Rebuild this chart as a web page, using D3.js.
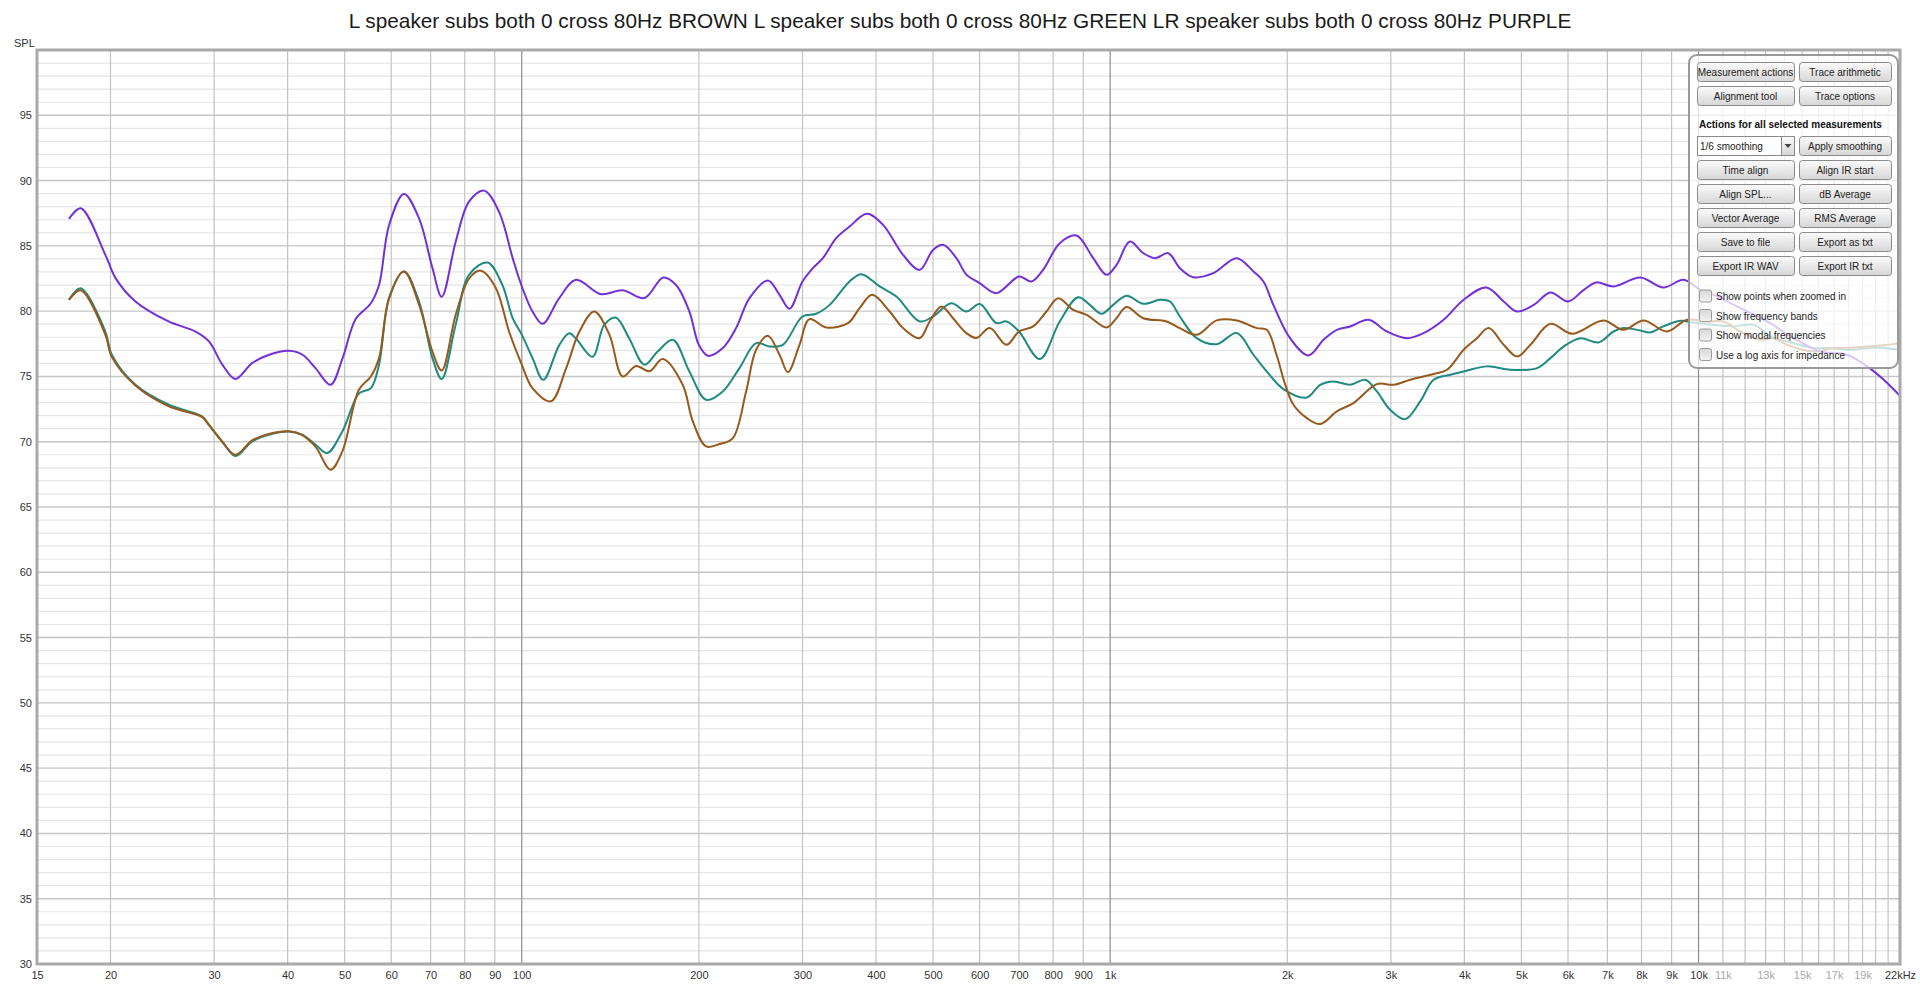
<!DOCTYPE html>
<html>
<head>
<meta charset="utf-8">
<script src="https://cdn.jsdelivr.net/npm/d3@7"></script>
<style>
  html, body { margin: 0; padding: 0; background: #fff; }
  svg { display: block; font-family: "Liberation Sans", Arial, sans-serif; }
</style>
</head>
<body>
<svg id="chart" width="1920" height="985"></svg>
<script>
// ---------------- DATA ----------------
const titleText = "L speaker subs both 0 cross 80Hz BROWN L speaker subs both 0 cross 80Hz GREEN LR speaker subs both 0 cross 80Hz PURPLE";

const purpleFreq = [17, 17.8, 19.6, 20.4, 22.05, 25.1, 27.9, 29.4, 31, 32.6, 34.8, 37.2, 40.2, 42.4, 44.6, 47.3, 49.6, 52.2, 55.4, 57.2, 59.5, 63.06, 66.9, 70.5, 73.1, 77.2, 81.4, 86.3, 91.5, 96.5, 100, 104.3, 108.5, 115.8, 123.6, 136.3, 148.4, 161.6, 174, 182.9, 192.7, 200, 207.2, 219.6, 231.3, 243.8, 262, 274.2, 285.1, 300, 312.4, 324.9, 342.3, 360.7, 386.1, 411.1, 444.6, 474.5, 500, 520, 547.9, 569.8, 600.3, 640.9, 700, 735, 769.2, 821, 876.5, 935.9, 986, 1025.4, 1080.3, 1138.6, 1191.5, 1255.8, 1313.6, 1384.9, 1497.7, 1641, 1752, 1822, 1894, 2022, 2173, 2305, 2428, 2557, 2749, 2953, 3194, 3410, 3688, 3989, 4359, 4665, 4916, 5248, 5601, 6000, 6383, 6700, 7170, 7958, 8717, 9430, 10070, 10605, 11776, 13074, 14510, 16113, 17887, 19345, 20645, 22040];
const purpleSPL = [87.07, 87.88, 84.31, 82.53, 80.74, 79.21, 78.44, 77.68, 75.89, 74.8, 76.02, 76.66, 76.96, 76.66, 75.64, 74.36, 76.4, 79.4, 80.6, 82.0, 86.6, 88.98, 87.1, 83.3, 81.1, 85.3, 88.4, 89.23, 87.6, 84.06, 81.9, 79.97, 79.03, 81.0, 82.4, 81.3, 81.6, 81.0, 82.58, 82.0, 79.97, 77.4, 76.58, 77.17, 78.7, 81.0, 82.35, 81.25, 80.18, 82.27, 83.29, 84.06, 85.59, 86.48, 87.45, 86.61, 84.31, 83.16, 84.69, 85.08, 84.06, 82.8, 82.14, 81.38, 82.65, 82.27, 83.16, 85.2, 85.79, 84.06, 82.78, 83.55, 85.33, 84.44, 84.06, 84.44, 83.29, 82.6, 82.91, 84.06, 83.04, 82.27, 80.48, 77.93, 76.61, 77.81, 78.57, 78.83, 79.34, 78.44, 77.93, 78.32, 79.34, 80.87, 81.81, 80.74, 79.97, 80.48, 81.43, 80.74, 81.63, 82.2, 81.89, 82.58, 81.81, 82.4, 81.63, 81.25, 80.23, 79.21, 77.93, 76.91, 76.66, 75.77, 74.74, 73.47];

const greenFreq = [17, 17.8, 19.6, 20.1, 22.05, 25.13, 28.6, 29.38, 30.96, 32.62, 34.82, 37.17, 40.19, 42.36, 44.63, 46.7, 49.55, 52.9, 55.4, 57.2, 59.5, 63.06, 66.9, 70.5, 73.1, 77.2, 81.4, 87.5, 92.7, 96.5, 100, 104.3, 108.8, 115.8, 120.4, 123.6, 131.9, 138.1, 144.6, 152.3, 161.6, 170.2, 180.6, 192.7, 205.8, 219.6, 234.4, 250.2, 263.6, 277.8, 300, 316.5, 333.6, 360.7, 377.6, 405.7, 433.2, 474.5, 500, 537.3, 569.8, 600.3, 640.9, 666.5, 700, 759.3, 821, 882.3, 923.7, 967, 1012, 1066.4, 1138.6, 1215, 1263.7, 1313.6, 1403, 1517, 1641, 1752, 1845.7, 1970, 2159, 2275, 2397, 2557, 2713, 2840, 2991, 3173, 3365, 3546, 3785, 3989, 4370, 4788, 5316, 5601, 5901, 6299, 6759, 7170, 7457, 7958, 8276, 8717, 9309, 9806, 10605, 11472, 12409, 13418, 14140, 15697, 16542, 18351, 19855, 22040];
const greenSPL = [80.87, 81.76, 78.44, 76.66, 74.36, 72.83, 71.94, 71.3, 70.03, 68.9, 70.03, 70.54, 70.79, 70.54, 69.77, 69.13, 70.79, 73.7, 74.1, 75.9, 81.0, 83.04, 80.74, 76.4, 74.8, 78.95, 82.8, 83.72, 82.0, 79.46, 78.2, 76.4, 74.74, 77.4, 78.3, 77.9, 76.5, 78.95, 79.5, 77.9, 75.9, 76.9, 77.81, 75.38, 73.21, 73.85, 75.64, 77.55, 77.3, 77.42, 79.59, 79.8, 80.48, 82.27, 82.83, 81.89, 81.12, 79.21, 79.59, 80.61, 79.97, 80.54, 79.08, 79.21, 78.44, 76.33, 79.21, 81.07, 80.48, 79.8, 80.48, 81.17, 80.56, 80.87, 80.74, 79.59, 77.93, 77.47, 78.32, 76.66, 75.38, 74.03, 73.39, 74.36, 74.62, 74.36, 74.74, 73.85, 72.45, 71.73, 73.09, 74.74, 75.13, 75.38, 75.77, 75.51, 75.64, 76.4, 77.3, 77.93, 77.6, 78.44, 78.7, 78.52, 78.37, 78.83, 79.26, 79.13, 78.95, 78.83, 78.95, 77.93, 77.68, 77.17, 77.17, 77.04, 77.22, 77.04];

const brownFreq = [17, 17.8, 19.6, 20.1, 22.05, 25.13, 28.6, 29.38, 30.96, 32.62, 34.82, 37.17, 40.19, 42.36, 44.63, 47.33, 49.55, 52.9, 55.4, 57.2, 59.5, 63.06, 66.9, 70.5, 73.1, 77.2, 81.4, 85.2, 90.3, 95.2, 100, 104.3, 112.1, 118.9, 125.2, 132.8, 140.9, 148.4, 156.4, 164.8, 173.6, 187.7, 195.3, 205.8, 216.8, 228.4, 240.6, 250.2, 262, 274.2, 283.3, 296.5, 308.3, 329.2, 358.4, 375.1, 394.1, 421.9, 444.6, 474.5, 493.5, 516.6, 540.7, 569.8, 592.6, 624.3, 666.5, 700, 739.8, 779.4, 815.8, 865.5, 912, 986, 1025, 1066, 1138.6, 1247.5, 1313.6, 1403, 1517, 1641, 1774.8, 1845.7, 1919.4, 1980, 2049, 2159, 2275, 2428, 2591, 2840, 3032, 3236, 3546, 3737, 3989, 4202, 4399, 4665, 4916, 5179, 5601, 6095, 6890, 7457, 8064, 8835, 9557, 10335, 11030, 11776, 12735, 13418, 14140, 15697, 16972, 18351, 20380, 22040];
const brownSPL = [80.87, 81.6, 78.2, 76.5, 74.3, 72.7, 71.9, 71.3, 70.0, 69.0, 70.1, 70.6, 70.8, 70.5, 69.6, 67.86, 69.26, 74.0, 75.0, 76.4, 81.0, 83.04, 80.5, 76.9, 75.46, 79.7, 82.5, 83.1, 81.8, 78.4, 75.9, 74.1, 73.1, 75.6, 78.4, 79.97, 78.2, 75.0, 75.8, 75.4, 76.33, 74.36, 71.56, 69.64, 69.82, 70.28, 73.85, 77.04, 78.11, 76.66, 75.33, 77.42, 79.39, 78.75, 79.08, 80.23, 81.25, 79.97, 78.7, 77.93, 79.21, 80.36, 79.46, 78.32, 77.95, 78.7, 77.42, 78.44, 78.83, 79.97, 80.99, 80.1, 79.72, 78.75, 79.46, 80.31, 79.46, 79.21, 78.7, 78.19, 79.29, 79.29, 78.7, 78.57, 76.6, 74.5, 72.83, 71.81, 71.35, 72.32, 72.96, 74.41, 74.36, 74.74, 75.18, 75.51, 77.04, 77.93, 78.7, 77.42, 76.53, 77.42, 79.03, 78.27, 79.29, 78.57, 79.29, 78.44, 79.34, 79.21, 79.21, 78.44, 77.81, 77.93, 77.42, 76.91, 77.17, 77.22, 77.37, 77.55];

const yTicks = [30, 35, 40, 45, 50, 55, 60, 65, 70, 75, 80, 85, 90, 95];
const xTickValues = [15, 20, 30, 40, 50, 60, 70, 80, 90, 100, 200, 300, 400, 500, 600, 700, 800, 900, 1000, 2000, 3000, 4000, 5000, 6000, 7000, 8000, 9000, 10000, 11000, 13000, 15000, 17000, 19000, 22000];
const xTickLabels = ["15", "20", "30", "40", "50", "60", "70", "80", "90", "100", "200", "300", "400", "500", "600", "700", "800", "900", "1k", "2k", "3k", "4k", "5k", "6k", "7k", "8k", "9k", "10k", "11k", "13k", "15k", "17k", "19k", "22kHz"];
const fadedTickLabels = ["11k", "13k", "15k", "17k", "19k"];
const gridFreqs = [20, 30, 40, 50, 60, 70, 80, 90, 200, 300, 400, 500, 600, 700, 800, 900, 2000, 3000, 4000, 5000, 6000, 7000, 8000, 9000, 11000, 12000, 13000, 14000, 15000, 16000, 17000, 18000, 19000, 20000, 21000];
const decadeFreqs = [100, 1000, 10000];

const panelButtons = [
  ["Measurement actions", "Trace arithmetic"],
  ["Alignment tool", "Trace options"],
  null,
  ["Time align", "Align IR start"],
  ["Align SPL...", "dB Average"],
  ["Vector Average", "RMS Average"],
  ["Save to file", "Export as txt"],
  ["Export IR WAV", "Export IR txt"]
];
const panelHeading = "Actions for all selected measurements";
const smoothingLabel = "1/6 smoothing";
const smoothingButton = "Apply smoothing";
const checkboxLabels = ["Show points when zoomed in", "Show frequency bands", "Show modal frequencies", "Use a log axis for impedance"];

const series = [
  { name: "GREEN", freq: greenFreq, spl: greenSPL, color: "#1f8a80" },
  { name: "BROWN", freq: brownFreq, spl: brownSPL, color: "#98591c" },
  { name: "PURPLE", freq: purpleFreq, spl: purpleSPL, color: "#7330d8" }
];

// ---------------- LAYOUT ----------------
const svg = d3.select("#chart");
const L = 37, T = 50, R = 1900, B = 964;
const x = d3.scaleLog().domain([15, 22000]).range([L, R]);
const y = d3.scaleLinear().domain([30, 100]).range([B, T]);

const defs = svg.append("defs");
defs.append("clipPath").attr("id", "plotClip")
  .append("rect").attr("x", L).attr("y", T).attr("width", R - L).attr("height", B - T);
const bg = defs.append("linearGradient").attr("id", "btnGrad").attr("x1", 0).attr("y1", 0).attr("x2", 0).attr("y2", 1);
bg.append("stop").attr("offset", "0%").attr("stop-color", "#fbfbfb");
bg.append("stop").attr("offset", "100%").attr("stop-color", "#d6d6d6");
const cg = defs.append("linearGradient").attr("id", "chkGrad").attr("x1", 0).attr("y1", 0).attr("x2", 0).attr("y2", 1);
cg.append("stop").attr("offset", "0%").attr("stop-color", "#d8d8d8");
cg.append("stop").attr("offset", "100%").attr("stop-color", "#f2f2f2");

// title
svg.append("text").attr("x", 960).attr("y", 28).attr("text-anchor", "middle")
  .attr("font-size", 20.8).attr("fill", "#1a1a1a").text(titleText);

// SPL label
svg.append("text").attr("x", 14).attr("y", 47).attr("font-size", 11).attr("fill", "#333").text("SPL");

// grid
const grid = svg.append("g");
const minorDb = d3.range(31, 100).filter(v => v % 5 !== 0);
grid.selectAll("line.hmin").data(minorDb).join("line")
  .attr("x1", L).attr("x2", R).attr("y1", d => y(d)).attr("y2", d => y(d))
  .attr("stroke", "#e6e6e6").attr("stroke-width", 1.2);
grid.selectAll("line.hmaj").data(yTicks.filter(v => v > 30)).join("line")
  .attr("x1", L).attr("x2", R).attr("y1", d => y(d)).attr("y2", d => y(d))
  .attr("stroke", "#c6c6c6").attr("stroke-width", 1.4);
grid.selectAll("line.vmin").data(gridFreqs).join("line")
  .attr("x1", d => x(d)).attr("x2", d => x(d)).attr("y1", T).attr("y2", B)
  .attr("stroke", "#c4c4c4").attr("stroke-width", 1.2);
grid.selectAll("line.vdec").data(decadeFreqs).join("line")
  .attr("x1", d => x(d)).attr("x2", d => x(d)).attr("y1", T).attr("y2", B)
  .attr("stroke", "#8e8e8e").attr("stroke-width", 1.2);

// curves
const line = d3.line()
  .x((d) => x(d[0])).y((d) => y(d[1]))
  .curve(d3.curveCatmullRom.alpha(0.5));
const curves = svg.append("g").attr("clip-path", "url(#plotClip)");
series.forEach(s => {
  const pts = s.freq.map((f, i) => [f, s.spl[i]]);
  curves.append("path").datum(pts).attr("d", line)
    .attr("fill", "none").attr("stroke", s.color).attr("stroke-width", 2)
    .attr("stroke-linejoin", "round");
});

// frame
svg.append("rect").attr("x", L).attr("y", T).attr("width", R - L).attr("height", B - T)
  .attr("fill", "none").attr("stroke", "#a9a9a9").attr("stroke-width", 3);

// axes
const yAxis = svg.append("g").attr("transform", `translate(${L - 2},0)`)
  .call(d3.axisLeft(y).tickValues(yTicks).tickSize(0).tickPadding(3));
yAxis.select(".domain").remove();
yAxis.selectAll("text").attr("font-size", 11).attr("fill", "#333")
  .attr("font-family", '"Liberation Sans", Arial, sans-serif');

const labelOf = new Map(xTickValues.map((v, i) => [v, xTickLabels[i]]));
const xAxis = svg.append("g").attr("transform", `translate(0,${B + 1})`)
  .call(d3.axisBottom(x).tickValues(xTickValues).tickFormat(d => labelOf.get(d)).tickSize(0).tickPadding(6));
xAxis.select(".domain").remove();
xAxis.selectAll("text").attr("font-size", 11)
  .attr("font-family", '"Liberation Sans", Arial, sans-serif')
  .attr("fill", d => fadedTickLabels.includes(labelOf.get(d)) ? "#a8a8a8" : "#333");

// ---------------- PANEL ----------------
const P = { x: 1689, y: 55, w: 209, h: 313 };
const panel = svg.append("g");
panel.append("rect").attr("x", P.x).attr("y", P.y).attr("width", P.w).attr("height", P.h)
  .attr("rx", 8).attr("fill", "#fff").attr("fill-opacity", 0.74)
  .attr("stroke", "#9a9a9a").attr("stroke-width", 2);

const col = [{ x: 1697, w: 97 }, { x: 1799, w: 92 }];
const rowTops = [62, 86, 136, 160, 184, 208, 232, 256];
const bh = 19;
function button(gx, gy, w, label) {
  panel.append("rect").attr("x", gx + 0.5).attr("y", gy + 0.5).attr("width", w).attr("height", bh)
    .attr("rx", 3).attr("fill", "url(#btnGrad)").attr("stroke", "#8a8a8a").attr("stroke-width", 1);
  panel.append("text").attr("x", gx + w / 2).attr("y", gy + 13.5).attr("text-anchor", "middle")
    .attr("font-size", 10).attr("fill", "#222").text(label);
}
panelButtons.forEach((row, i) => {
  if (!row) return;
  row.forEach((lab, c) => button(col[c].x, rowTops[i], col[c].w, lab));
});
// heading
panel.append("text").attr("x", 1699).attr("y", 128).attr("font-size", 10).attr("font-weight", "bold")
  .attr("fill", "#111").text(panelHeading);
// dropdown
const dy = rowTops[2];
panel.append("rect").attr("x", 1697.5).attr("y", dy + 0.5).attr("width", 97).attr("height", bh)
  .attr("fill", "#fff").attr("stroke", "#8a8a8a");
panel.append("rect").attr("x", 1781.5).attr("y", dy + 0.5).attr("width", 13).attr("height", bh)
  .attr("fill", "url(#btnGrad)").attr("stroke", "#8a8a8a");
panel.append("path").attr("d", `M1784.5,${dy + 8} L1791.5,${dy + 8} L1788,${dy + 12} Z`).attr("fill", "#444");
panel.append("text").attr("x", 1700).attr("y", dy + 13.5).attr("font-size", 10).attr("fill", "#222").text(smoothingLabel);
button(col[1].x, dy, col[1].w, smoothingButton);
// checkboxes
const chkY = [296, 315.5, 335, 354.5];
checkboxLabels.forEach((lab, i) => {
  panel.append("rect").attr("x", 1699.5).attr("y", chkY[i] - 6).attr("width", 12).attr("height", 12)
    .attr("rx", 2).attr("fill", "url(#chkGrad)").attr("stroke", "#9a9a9a");
  panel.append("text").attr("x", 1716).attr("y", chkY[i] + 4).attr("font-size", 10).attr("fill", "#222").text(lab);
});
</script>
</body>
</html>
